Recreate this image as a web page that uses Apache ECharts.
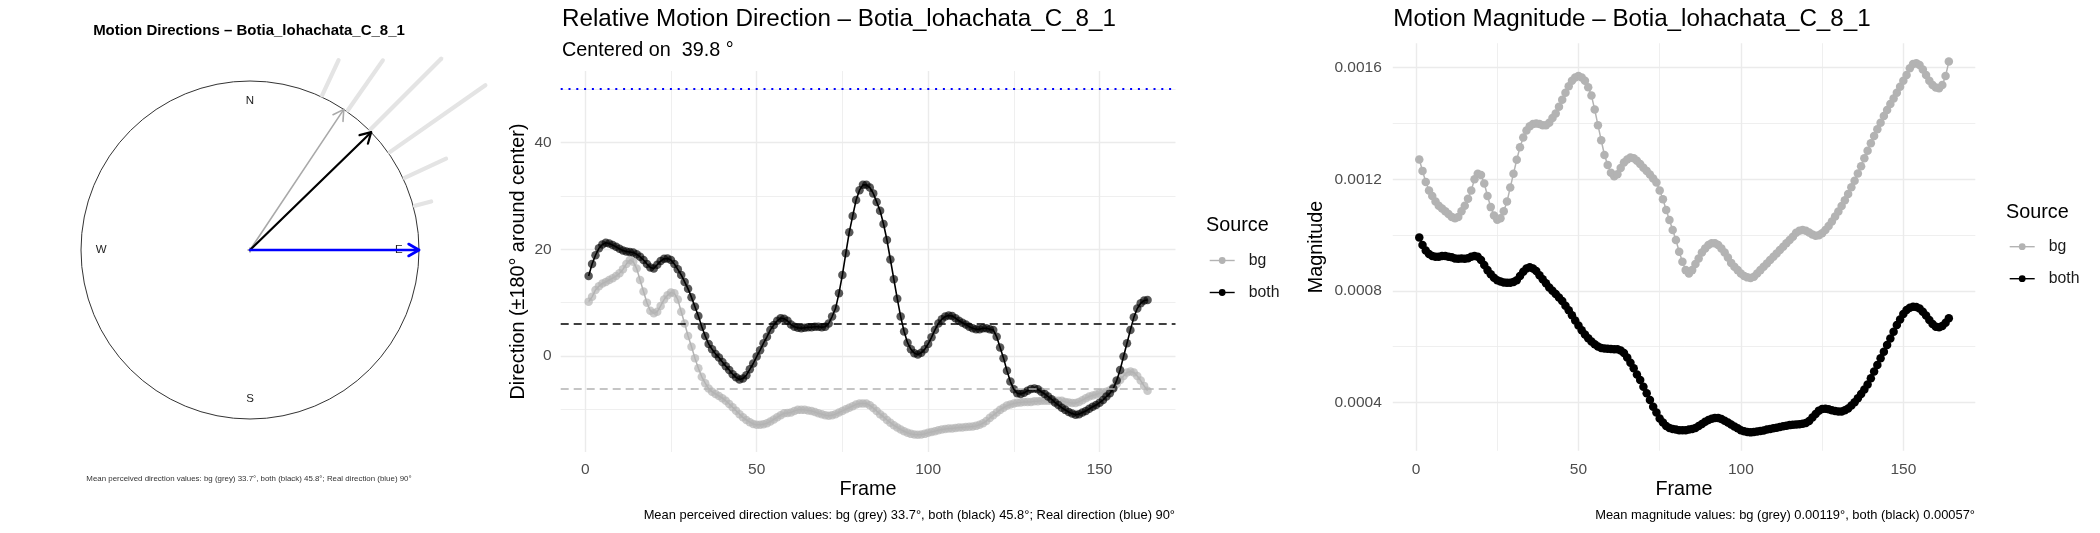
<!DOCTYPE html>
<html><head><meta charset="utf-8">
<script src="https://cdn.jsdelivr.net/npm/echarts@6/dist/echarts.min.js"></script>
<style>html,body{margin:0;padding:0;background:#fff}#c{width:2100px;height:533px}</style>
</head><body><div id="c"></div>
<script>
// ---------------- DATA ----------------
const FRAME_COUNT = 164;
const frames = Array.from({length: FRAME_COUNT}, (_, i) => i + 1);

// Relative motion direction (deg, centred on 39.8 deg)
const dirBg = [
  10.2, 11.1, 12.4, 13.1, 13.6, 13.9, 14.25, 14.6, 15.0, 15.5,
  16.25, 17.25, 18.0, 17.7, 16.4, 14.25, 12.1, 10.0, 8.5, 8.0,
  8.3, 9.4, 10.6, 11.4, 11.9, 11.75, 10.6, 8.3, 6.1, 3.75,
  1.75, -0.4, -2.3, -3.9, -5.1, -6.1, -6.7, -7.1, -7.5, -7.9,
  -8.4, -9.0, -9.6, -10.25, -10.9, -11.5, -12.0, -12.4, -12.75, -12.9,
  -12.9, -12.8, -12.6, -12.3, -11.9, -11.5, -11.1, -10.75, -10.7, -10.6,
  -10.3, -10.1, -10.1, -10.1, -10.2, -10.3, -10.5, -10.75, -10.9, -11.1,
  -11.2, -11.1, -10.9, -10.6, -10.3, -10.0, -9.7, -9.4, -9.1, -8.9,
  -8.9, -8.9, -9.25, -9.75, -10.3, -10.9, -11.4, -12.0, -12.5, -13.0,
  -13.4, -13.8, -14.1, -14.4, -14.6, -14.7, -14.75, -14.7, -14.6, -14.4,
  -14.25, -14.1, -13.9, -13.8, -13.7, -13.6, -13.6, -13.5, -13.4, -13.4,
  -13.3, -13.25, -13.2, -13.1, -12.9, -12.6, -12.2, -11.6, -11.1, -10.6,
  -10.1, -9.7, -9.3, -9.1, -8.9, -8.75, -8.7, -8.6, -8.6, -8.6,
  -8.5, -8.5, -8.4, -8.4, -8.4, -8.4, -8.4, -8.4, -8.4, -8.6,
  -8.7, -8.8, -8.8, -8.6, -8.3, -7.9, -7.6, -7.4, -7.2, -7.0,
  -6.8, -6.7, -6.4, -5.9, -5.25, -4.5, -3.75, -3.1, -2.9, -3.1,
  -3.75, -4.6, -5.6, -6.5
];
const dirBoth = [
  15.0, 17.25, 18.9, 20.2, 20.9, 21.25, 21.1, 20.8, 20.5, 20.1,
  19.8, 19.6, 19.5, 19.4, 19.1, 18.6, 18.0, 17.25, 16.6, 16.4,
  17.1, 17.8, 18.25, 18.3, 18.0, 17.25, 16.25, 15.2, 13.9, 12.6,
  11.0, 9.25, 7.5, 5.5, 3.75, 2.25, 1.25, 0.4, -0.3, -1.1,
  -1.9, -2.6, -3.4, -4.0, -4.4, -4.2, -3.6, -2.5, -1.4, -0.1,
  1.1, 2.4, 3.6, 4.9, 5.8, 6.6, 7.1, 7.0, 6.6, 5.9,
  5.5, 5.3, 5.2, 5.3, 5.4, 5.4, 5.5, 5.5, 5.4, 5.5,
  6.1, 7.4, 8.9, 11.75, 15.2, 19.25, 23.2, 26.25, 29.25, 31.1,
  32.1, 32.1, 31.6, 30.5, 28.9, 27.25, 24.75, 21.75, 18.1, 14.4,
  10.75, 7.4, 4.6, 2.5, 1.25, 0.5, 0.3, 0.6, 1.25, 2.25,
  3.5, 4.9, 6.1, 6.9, 7.4, 7.6, 7.5, 7.1, 6.6, 6.25,
  5.9, 5.5, 5.2, 5.0, 5.0, 5.2, 5.2, 5.0, 4.9, 3.6,
  1.6, -0.4, -2.75, -4.8, -6.25, -7.0, -7.1, -6.9, -6.5, -6.2,
  -6.1, -6.25, -6.7, -7.1, -7.6, -8.1, -8.7, -9.2, -9.7, -10.1,
  -10.5, -10.8, -11.0, -10.9, -10.6, -10.3, -9.9, -9.5, -9.2, -8.75,
  -8.25, -7.6, -7.0, -6.1, -4.6, -2.6, -0.1, 2.4, 4.9, 7.25,
  8.9, 9.9, 10.4, 10.5
];
const dirMeanBg = -6.1;
const dirMeanBoth = 6.0;
const dirReal = 50.2;

// Motion magnitude
const magBg = [
  12.71e-4, 12.3e-4, 11.9e-4, 11.6e-4, 11.4e-4, 11.2e-4, 11.05e-4, 10.95e-4, 10.85e-4, 10.75e-4,
  10.65e-4, 10.6e-4, 10.65e-4, 10.85e-4, 11.05e-4, 11.3e-4, 11.6e-4, 12.0e-4, 12.2e-4, 12.15e-4,
  11.85e-4, 11.4e-4, 11.0e-4, 10.7e-4, 10.55e-4, 10.6e-4, 10.85e-4, 11.2e-4, 11.7e-4, 12.2e-4,
  12.7e-4, 13.15e-4, 13.5e-4, 13.75e-4, 13.9e-4, 13.98e-4, 14.0e-4, 13.98e-4, 13.94e-4, 13.94e-4,
  14.03e-4, 14.2e-4, 14.36e-4, 14.6e-4, 14.85e-4, 15.1e-4, 15.34e-4, 15.53e-4, 15.65e-4, 15.7e-4,
  15.65e-4, 15.53e-4, 15.3e-4, 15.0e-4, 14.5e-4, 13.94e-4, 13.4e-4, 12.87e-4, 12.51e-4, 12.23e-4,
  12.11e-4, 12.18e-4, 12.4e-4, 12.6e-4, 12.71e-4, 12.78e-4, 12.75e-4, 12.66e-4, 12.55e-4, 12.41e-4,
  12.3e-4, 12.17e-4, 12.03e-4, 11.88e-4, 11.6e-4, 11.28e-4, 10.9e-4, 10.54e-4, 10.18e-4, 9.82e-4,
  9.4e-4, 9.04e-4, 8.74e-4, 8.62e-4, 8.74e-4, 8.96e-4, 9.16e-4, 9.37e-4, 9.52e-4, 9.64e-4,
  9.7e-4, 9.7e-4, 9.64e-4, 9.52e-4, 9.37e-4, 9.19e-4, 9.0e-4, 8.86e-4, 8.74e-4, 8.62e-4,
  8.53e-4, 8.48e-4, 8.46e-4, 8.5e-4, 8.62e-4, 8.74e-4, 8.86e-4, 8.98e-4, 9.1e-4, 9.22e-4,
  9.34e-4, 9.46e-4, 9.58e-4, 9.7e-4, 9.82e-4, 9.94e-4, 10.08e-4, 10.15e-4, 10.18e-4, 10.15e-4,
  10.09e-4, 10.02e-4, 9.97e-4, 9.99e-4, 10.06e-4, 10.18e-4, 10.32e-4, 10.48e-4, 10.66e-4, 10.84e-4,
  11.04e-4, 11.25e-4, 11.47e-4, 11.71e-4, 11.95e-4, 12.21e-4, 12.47e-4, 12.75e-4, 13.02e-4, 13.29e-4,
  13.55e-4, 13.79e-4, 14.03e-4, 14.27e-4, 14.48e-4, 14.7e-4, 14.9e-4, 15.1e-4, 15.32e-4, 15.53e-4,
  15.74e-4, 15.98e-4, 16.13e-4, 16.16e-4, 16.1e-4, 15.94e-4, 15.74e-4, 15.53e-4, 15.38e-4, 15.29e-4,
  15.26e-4, 15.38e-4, 15.7e-4, 16.22e-4
];
const magBoth = [
  9.91e-4, 9.64e-4, 9.44e-4, 9.32e-4, 9.25e-4, 9.22e-4, 9.22e-4, 9.25e-4, 9.25e-4, 9.22e-4,
  9.2e-4, 9.16e-4, 9.15e-4, 9.16e-4, 9.15e-4, 9.17e-4, 9.22e-4, 9.25e-4, 9.22e-4, 9.1e-4,
  8.92e-4, 8.74e-4, 8.59e-4, 8.47e-4, 8.38e-4, 8.33e-4, 8.3e-4, 8.29e-4, 8.29e-4, 8.31e-4,
  8.38e-4, 8.53e-4, 8.68e-4, 8.8e-4, 8.84e-4, 8.8e-4, 8.71e-4, 8.56e-4, 8.41e-4, 8.27e-4,
  8.12e-4, 8.0e-4, 7.88e-4, 7.76e-4, 7.63e-4, 7.46e-4, 7.3e-4, 7.12e-4, 6.93e-4, 6.75e-4,
  6.58e-4, 6.43e-4, 6.3e-4, 6.18e-4, 6.08e-4, 6.0e-4, 5.95e-4, 5.93e-4, 5.92e-4, 5.91e-4,
  5.9e-4, 5.9e-4, 5.86e-4, 5.77e-4, 5.61e-4, 5.42e-4, 5.22e-4, 5.0e-4, 4.8e-4, 4.56e-4,
  4.32e-4, 4.08e-4, 3.84e-4, 3.63e-4, 3.42e-4, 3.27e-4, 3.15e-4, 3.08e-4, 3.04e-4, 3.02e-4,
  3.0e-4, 3.0e-4, 3.0e-4, 3.02e-4, 3.04e-4, 3.08e-4, 3.15e-4, 3.22e-4, 3.3e-4, 3.36e-4,
  3.41e-4, 3.44e-4, 3.44e-4, 3.4e-4, 3.34e-4, 3.27e-4, 3.2e-4, 3.13e-4, 3.07e-4, 3.0e-4,
  2.96e-4, 2.93e-4, 2.92e-4, 2.93e-4, 2.95e-4, 2.97e-4, 2.99e-4, 3.02e-4, 3.04e-4, 3.07e-4,
  3.09e-4, 3.11e-4, 3.14e-4, 3.16e-4, 3.18e-4, 3.19e-4, 3.2e-4, 3.21e-4, 3.23e-4, 3.26e-4,
  3.33e-4, 3.45e-4, 3.58e-4, 3.7e-4, 3.76e-4, 3.77e-4, 3.75e-4, 3.71e-4, 3.69e-4, 3.67e-4,
  3.67e-4, 3.71e-4, 3.78e-4, 3.88e-4, 4.0e-4, 4.14e-4, 4.3e-4, 4.46e-4, 4.64e-4, 4.86e-4,
  5.1e-4, 5.34e-4, 5.58e-4, 5.81e-4, 6.05e-4, 6.29e-4, 6.53e-4, 6.77e-4, 6.97e-4, 7.17e-4,
  7.31e-4, 7.39e-4, 7.43e-4, 7.42e-4, 7.36e-4, 7.25e-4, 7.11e-4, 6.95e-4, 6.81e-4, 6.71e-4,
  6.69e-4, 6.74e-4, 6.85e-4, 7.01e-4
];
const magMeanBg = 0.00119;
const magMeanBoth = 0.000574;

// Compass panel
const compassLabels = ['N', 'E', 'S', 'W'];
const compassAngles = [0, 90, 180, 270];
const arrowNames = ['bg', 'both', 'real'];
const arrowAngles = [33.7, 45.8, 90];
const arrowLengths = [1, 1, 1];
const roseAngles = [25, 35, 45, 55, 65, 75];
const roseOuter = [1.24, 1.37, 1.60, 1.70, 1.28, 1.11];

// Tick steps
const dirXTickStep = 50, dirYTickStep = 20, magYTickStep = 0.0004;

// ---------------- STYLE ----------------
const FONT = '"Liberation Sans", Arial, sans-serif';
const GREY = '#b3b3b3';
const GRID_MAJOR = '#ebebeb';
const TICK_COL = '#4d4d4d';
const ROSE_START = 1.01;
const COMPASS_R = 0.88;
const SYM = 8.5;

const chart = echarts.init(document.getElementById('c'), null, {width: 2100, height: 533});

function valueAxis(gridIndex, min, max, step, margin, formatter) {
  const lab = {color: TICK_COL, fontSize: 15.5, fontFamily: FONT, margin, showMinLabel: false, showMaxLabel: false};
  if (formatter) lab.formatter = formatter;
  return {
    gridIndex, type: 'value', min, max, minInterval: step, maxInterval: step,
    axisLine: {show: false}, axisTick: {show: false}, axisLabel: lab,
    splitLine: {show: true, showMinLine: false, showMaxLine: false, lineStyle: {color: GRID_MAJOR, width: 1.4}},
    minorTick: {show: false, splitNumber: 2},
    minorSplitLine: {show: true, lineStyle: {color: GRID_MAJOR, width: 0.8}}
  };
}

const arrowStyles = [
  {stroke: '#a9a9a9', lineWidth: 1.6},
  {stroke: '#000000', lineWidth: 2.2},
  {stroke: '#0000ff', lineWidth: 2.6}
];

function txt(x, y, text, size, opts) {
  opts = opts || {};
  return {
    type: 'text', x, y, rotation: opts.rotation || 0, silent: true,
    style: {
      text, fill: opts.color || '#000', font: (opts.bold ? 'bold ' : '') + size + 'px ' + FONT,
      align: opts.align || 'left', verticalAlign: 'middle'
    }
  };
}

function legendAt(left, top) {
  return {
    left, top, orient: 'vertical', padding: 0, itemWidth: 25, itemHeight: 8.5, itemGap: 16,
    textStyle: {fontSize: 15.8, fontFamily: FONT, color: '#1a1a1a', lineHeight: 16, padding: [0, 0, 0, 9]},
    data: [{name: 'bg', itemStyle: {color: GREY}, lineStyle: {color: GREY, width: 1.4}},
           {name: 'both', itemStyle: {color: '#000'}, lineStyle: {color: '#000', width: 1.4}}]
  };
}

const option = {
  animation: false,
  backgroundColor: '#ffffff',
  polar: [{center: [250, 250], radius: 169}],
  angleAxis: [{
    polarIndex: 0, type: 'value', min: 0, max: 360, startAngle: 90, clockwise: true,
    axisLine: {show: true, lineStyle: {color: '#333', width: 1}},
    axisTick: {show: false}, axisLabel: {show: false}, splitLine: {show: false}
  }],
  radiusAxis: [{
    polarIndex: 0, type: 'value', min: 0, max: 1,
    axisLine: {show: false}, axisTick: {show: false}, axisLabel: {show: false}, splitLine: {show: false}
  }],
  grid: [
    {left: 560.7, top: 71, width: 614.8, height: 381},
    {left: 1392.8, top: 43.2, width: 582.5, height: 407.6}
  ],
  xAxis: [
    valueAxis(0, -7.15, 172.15, dirXTickStep, 10),
    valueAxis(1, -7.15, 172.15, dirXTickStep, 11)
  ],
  yAxis: [
    valueAxis(0, -18.0, 53.45, dirYTickStep, 9),
    valueAxis(1, 2.259e-4, 16.88e-4, magYTickStep, 11, v => v.toFixed(4))
  ],
  legend: [legendAt(1209, 252.5), legendAt(2009, 238.7)],
  graphic: [
    txt(249, 31.3, 'Motion Directions – Botia_lohachata_C_8_1', 15, {bold: true, align: 'center'}),
    txt(249, 479.3, 'Mean perceived direction values: bg (grey) 33.7°, both (black) 45.8°; Real direction (blue) 90°', 7.9, {align: 'center', color: '#333'}),
    txt(562, 19.6, 'Relative Motion Direction – Botia_lohachata_C_8_1', 24.2),
    txt(562, 50.2, 'Centered on  39.8 °', 19.8),
    txt(518.5, 261.5, 'Direction (±180° around center)', 19.8, {align: 'center', rotation: Math.PI / 2}),
    txt(868, 490, 'Frame', 19.8, {align: 'center'}),
    txt(1175, 515, 'Mean perceived direction values: bg (grey) 33.7°, both (black) 45.8°; Real direction (blue) 90°', 12.9, {align: 'right'}),
    txt(1206, 226, 'Source', 19.8),
    txt(1393.3, 19.6, 'Motion Magnitude – Botia_lohachata_C_8_1', 24.2),
    txt(1316.7, 247, 'Magnitude', 19.8, {align: 'center', rotation: Math.PI / 2}),
    txt(1684, 490, 'Frame', 19.8, {align: 'center'}),
    txt(1975, 515, 'Mean magnitude values: bg (grey) 0.00119°, both (black) 0.00057°', 12.9, {align: 'right'}),
    txt(2006, 212.7, 'Source', 19.8)
  ],
  series: [
    // stacked direction dots outside the circle
    {
      type: 'custom', coordinateSystem: 'polar', polarIndex: 0, silent: true, clip: false, z: 1,
      data: roseAngles.map((a, i) => [roseOuter[i], a]),
      renderItem: (params, api) => {
        const r = api.value(0), a = api.value(1);
        const p0 = api.coord([ROSE_START, a]), p1 = api.coord([r, a]);
        return {type: 'line', shape: {x1: p0[0], y1: p0[1], x2: p1[0], y2: p1[1]},
                style: {stroke: '#e4e4e4', lineWidth: 4.2, lineCap: 'round'}};
      }
    },
    // compass labels + centre mark
    {
      type: 'custom', coordinateSystem: 'polar', polarIndex: 0, silent: true, clip: false, z: 2,
      data: compassAngles.map(a => [COMPASS_R, a]),
      renderItem: (params, api) => {
        const p = api.coord([api.value(0), api.value(1)]);
        const items = [{type: 'text', x: p[0], y: p[1],
                style: {text: compassLabels[params.dataIndex], font: '11.5px ' + FONT, fill: '#222', align: 'center', verticalAlign: 'middle'}}];
        if (params.dataIndex === 0) {
          const c = api.coord([0, 0]);
          items.push({type: 'line', shape: {x1: c[0] - 2.5, y1: c[1], x2: c[0] + 2.5, y2: c[1]}, style: {stroke: '#333', lineWidth: 0.8}});
          items.push({type: 'line', shape: {x1: c[0], y1: c[1] - 2.5, x2: c[0], y2: c[1] + 2.5}, style: {stroke: '#333', lineWidth: 0.8}});
        }
        return {type: 'group', children: items};
      }
    },
    // arrows
    {
      type: 'custom', coordinateSystem: 'polar', polarIndex: 0, silent: true, clip: false, z: 3,
      data: arrowAngles.map((a, i) => [arrowLengths[i], a]),
      renderItem: (params, api) => {
        const r = api.value(0), a = api.value(1);
        const p0 = api.coord([0, a]), p1 = api.coord([r, a]);
        const dx = p1[0] - p0[0], dy = p1[1] - p0[1];
        const L = Math.sqrt(dx * dx + dy * dy), ux = dx / L, uy = dy / L;
        const h = 12, c = Math.cos(Math.PI / 6), s = Math.sin(Math.PI / 6);
        const w1 = [p1[0] - h * (ux * c - uy * s), p1[1] - h * (uy * c + ux * s)];
        const w2 = [p1[0] - h * (ux * c + uy * s), p1[1] - h * (uy * c - ux * s)];
        const st = Object.assign({fill: null, lineCap: 'round', lineJoin: 'round'}, arrowStyles[params.dataIndex]);
        return {type: 'group', children: [
          {type: 'line', shape: {x1: p0[0], y1: p0[1], x2: p1[0], y2: p1[1]}, style: st},
          {type: 'polyline', shape: {points: [w1, p1, w2]}, style: st}
        ]};
      }
    },
    // Relative direction panel
    {
      name: 'bg', type: 'line', xAxisIndex: 0, yAxisIndex: 0, z: 3,
      data: frames.map((f, i) => [f, dirBg[i]]),
      symbol: 'circle', symbolSize: SYM, showAllSymbol: true,
      lineStyle: {color: GREY, width: 1.5}, itemStyle: {color: 'rgba(179,179,179,0.7)'},
      markLine: {silent: true, symbol: 'none', label: {show: false}, animation: false,
                 lineStyle: {color: GREY, type: [8, 5], width: 1.6},
                 data: [{yAxis: dirMeanBg}]}
    },
    {
      name: 'both', type: 'line', xAxisIndex: 0, yAxisIndex: 0, z: 4,
      data: frames.map((f, i) => [f, dirBoth[i]]),
      symbol: 'circle', symbolSize: SYM, showAllSymbol: true,
      lineStyle: {color: '#000', width: 1.6}, itemStyle: {color: 'rgba(0,0,0,0.66)'},
      markLine: {silent: true, symbol: 'none', label: {show: false}, animation: false,
                 data: [
                   {yAxis: dirMeanBoth, lineStyle: {color: '#000', type: [8, 5], width: 1.7}},
                   {yAxis: dirReal, lineStyle: {color: '#0000ff', type: [2, 5.8], width: 2}}
                 ]}
    },
    // Magnitude panel
    {
      name: 'bg', type: 'line', xAxisIndex: 1, yAxisIndex: 1, z: 3,
      data: frames.map((f, i) => [f, magBg[i]]),
      symbol: 'circle', symbolSize: SYM, showAllSymbol: true,
      lineStyle: {color: GREY, width: 1.5}, itemStyle: {color: GREY},
      markLine: {silent: true, symbol: 'none', label: {show: false}, animation: false,
                 lineStyle: {color: GREY, type: [8, 5], width: 1.6},
                 data: [{yAxis: magMeanBg}]}
    },
    {
      name: 'both', type: 'line', xAxisIndex: 1, yAxisIndex: 1, z: 4,
      data: frames.map((f, i) => [f, magBoth[i]]),
      symbol: 'circle', symbolSize: SYM, showAllSymbol: true,
      lineStyle: {color: '#000', width: 1.5}, itemStyle: {color: '#000'},
      markLine: {silent: true, symbol: 'none', label: {show: false}, animation: false,
                 lineStyle: {color: '#000', type: [8, 5], width: 1.7},
                 data: [{yAxis: magMeanBoth}]}
    }
  ]
};
chart.setOption(option);
</script>
</body></html>
